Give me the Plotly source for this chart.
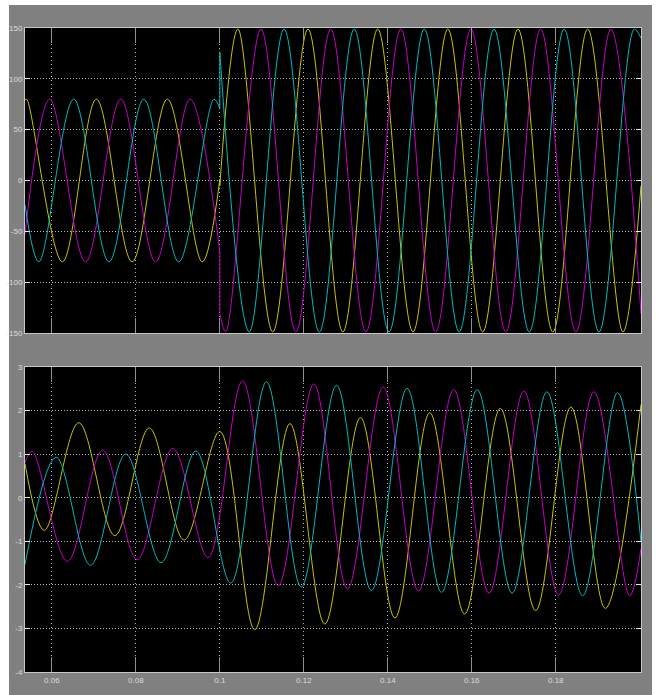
import plotly.graph_objects as go

# ---------------- data (extrema) ----------------
# Top scope (voltage-like), before and after the step at t = 0.1 s
top_yellow_pre_t = [0.0536, 0.0540, 0.0625, 0.0706, 0.0791, 0.0875, 0.0958, 0.1000]
top_yellow_pre_v = [79, 80, -80, 80, -80, 80, -80, 1]
top_yellow_post_t = [0.1000, 0.1043, 0.1126, 0.1210, 0.1293, 0.1376, 0.1460, 0.1543,
                     0.1626, 0.1710, 0.1793, 0.1876, 0.1960, 0.2003]
top_yellow_post_v = [-5, 149, -149, 149, -149, 149, -149, 149, -149, 149, -149, 149, -149, -5]

top_magenta_pre_t = [0.0536, 0.0595, 0.0680, 0.0764, 0.0847, 0.0929, 0.1000]
top_magenta_pre_v = [-53, 80, -80, 80, -80, 80, -70]
top_magenta_post_t = [0.1000, 0.1014, 0.1098, 0.1181, 0.1264, 0.1348, 0.1431, 0.1514,
                      0.1598, 0.1681, 0.1764, 0.1848, 0.1931, 0.2003]
top_magenta_post_v = [-131, -149, 149, -149, 149, -149, 149, -149, 149, -149, 149, -149, 149, -131]

top_cyan_pre_t = [0.0536, 0.0569, 0.0652, 0.0736, 0.0819, 0.0902, 0.0986, 0.1000]
top_cyan_pre_v = [-24, -80, 80, -80, 80, -80, 80, 71]
top_cyan_post_t = [0.1000, 0.1070, 0.1153, 0.1237, 0.1320, 0.1403, 0.1487, 0.1570,
                   0.1653, 0.1737, 0.1820, 0.1903, 0.1987, 0.2003]
top_cyan_post_v = [126, -149, 149, -149, 149, -149, 149, -149, 149, -149, 149, -149, 149, 140]

# Bottom scope (current-like)
bot_yellow_t = [0.0536, 0.0582, 0.0664, 0.0750, 0.0832, 0.0915, 0.1000, 0.1083, 0.1167,
                0.1250, 0.1335, 0.1417, 0.1500, 0.1583, 0.1668, 0.1752, 0.1836, 0.1918, 0.2003]
bot_yellow_v = [0.78, -0.75, 1.72, -0.87, 1.60, -0.97, 1.52, -3.03, 1.70,
                -2.90, 1.84, -2.76, 1.95, -2.67, 2.05, -2.59, 2.08, -2.54, 2.14]

bot_magenta_t = [0.0536, 0.0553, 0.0637, 0.0721, 0.0803, 0.0888, 0.0972, 0.1054, 0.1139,
                 0.1224, 0.1304, 0.1389, 0.1473, 0.1557, 0.1641, 0.1724, 0.1807, 0.1891,
                 0.1976, 0.2003]
bot_magenta_v = [0.80, 1.07, -1.46, 1.09, -1.42, 1.13, -1.37, 2.68, -2.02,
                 2.61, -2.09, 2.54, -2.14, 2.48, -2.19, 2.45, -2.23, 2.43, -2.25, -1.17]

bot_cyan_t = [0.0536, 0.0610, 0.0692, 0.0776, 0.0860, 0.0943, 0.1026, 0.1111, 0.1194,
              0.1278, 0.1361, 0.1446, 0.1528, 0.1613, 0.1696, 0.1779, 0.1864, 0.1947, 0.2003]
bot_cyan_v = [-1.53, 0.93, -1.55, 1.00, -1.49, 1.07, -1.96, 2.66, -2.05,
              2.58, -2.13, 2.51, -2.17, 2.48, -2.19, 2.43, -2.25, 2.41, -1.02]

x_ticks = [0.06, 0.08, 0.10, 0.12, 0.14, 0.16, 0.18]
x_ticktext = ["0.06", "0.08", "0.1", "0.12", "0.14", "0.16", "0.18"]
top_yticks = [150, 100, 50, 0, -50, -100, -150]
top_ytext = ["150", "100", "50", "0", "-50", "-100", "-150"]
bot_yticks = [3, 2, 1, 0, -1, -2, -3, -4]
bot_ytext = ["3", "2", "1", "0", "-1", "-2", "-3", "-4"]

# ---------------- styling ----------------
YELLOW = "#c4c400"
MAGENTA = "#c400c4"
CYAN = "#00b8b8"
FRAME = "#808080"
FONT = dict(family="Liberation Sans Narrow, Arial Narrow, Liberation Sans, sans-serif",
            size=8, color="#dcdcdc")


def stepped(pre_t, pre_v, post_t, post_v):
    """pre segment, vertical jump, post segment as separate spline pieces."""
    xs = list(pre_t) + [None] + [pre_t[-1], post_t[0]] + [None] + list(post_t)
    ys = list(pre_v) + [None] + [pre_v[-1], post_v[0]] + [None] + list(post_v)
    return xs, ys


fig = go.Figure()

for (pt, pv, qt, qv, col) in [
    (top_yellow_pre_t, top_yellow_pre_v, top_yellow_post_t, top_yellow_post_v, YELLOW),
    (top_magenta_pre_t, top_magenta_pre_v, top_magenta_post_t, top_magenta_post_v, MAGENTA),
    (top_cyan_pre_t, top_cyan_pre_v, top_cyan_post_t, top_cyan_post_v, CYAN),
]:
    xs, ys = stepped(pt, pv, qt, qv)
    fig.add_trace(go.Scatter(x=xs, y=ys, mode="lines", xaxis="x", yaxis="y",
                             connectgaps=False,
                             line=dict(color=col, width=1, shape="spline", smoothing=1),
                             hoverinfo="skip", showlegend=False))

for (bt, bv, col) in [
    (bot_yellow_t, bot_yellow_v, YELLOW),
    (bot_magenta_t, bot_magenta_v, MAGENTA),
    (bot_cyan_t, bot_cyan_v, CYAN),
]:
    fig.add_trace(go.Scatter(x=bt, y=bv, mode="lines", xaxis="x2", yaxis="y2",
                             line=dict(color=col, width=1, shape="spline", smoothing=1),
                             hoverinfo="skip", showlegend=False))

XR = [0.0536, 0.2003]
GRID = "#b8b8b8"

xcommon = dict(range=XR, tickvals=x_ticks, ticktext=x_ticktext,
               showgrid=True, gridcolor=GRID, griddash="1px,3px", gridwidth=1,
               ticks="inside", ticklen=15, tickwidth=1, tickcolor="#909090",
               showline=True, linecolor="#c8c8c8", linewidth=1, mirror="ticks",
               zeroline=False, tickfont=FONT, fixedrange=True, automargin=False)
ycommon = dict(showgrid=True, gridcolor=GRID, griddash="1px,2px", gridwidth=1,
               ticks="inside", ticklen=5, tickwidth=1, tickcolor="#e8e8e8",
               showline=True, linecolor="#c8c8c8", linewidth=1, mirror="ticks",
               zeroline=False, tickfont=FONT, fixedrange=True, automargin=False,
               ticklabelstandoff=0)

fig.update_layout(
    width=657, height=695,
    margin=dict(l=25, r=16, t=28, b=23, autoexpand=False),
    paper_bgcolor=FRAME, plot_bgcolor="black",
    xaxis=dict(xcommon, anchor="y", showticklabels=False),
    yaxis=dict(ycommon, domain=[0.5264, 1.0], range=[-150, 150],
               tickvals=top_yticks, ticktext=top_ytext, anchor="x"),
    xaxis2=dict(xcommon, anchor="y2", showticklabels=True),
    yaxis2=dict(ycommon, domain=[0.0, 0.4736], range=[-4, 3],
                tickvals=bot_yticks, ticktext=bot_ytext, anchor="x2"),
    shapes=[
        # white page margins around the grey scope frame (drawn beneath labels)
        dict(type="rect", xref="paper", yref="paper", x0=-0.2, x1=-0.0260, y0=-0.2, y1=1.2,
             fillcolor="white", line=dict(width=0), layer="below"),
        dict(type="rect", xref="paper", yref="paper", x0=1.0179, x1=1.2, y0=-0.2, y1=1.2,
             fillcolor="white", line=dict(width=0), layer="below"),
        dict(type="rect", xref="paper", yref="paper", x0=-0.2, x1=1.2, y0=1.0357, y1=1.2,
             fillcolor="white", line=dict(width=0), layer="below"),
    ],
    hovermode=False,
)

fig.write_html("out.html", config={"displayModeBar": False, "staticPlot": True},
               post_script="document.body.style.margin='0px';document.body.style.overflow='hidden';")
